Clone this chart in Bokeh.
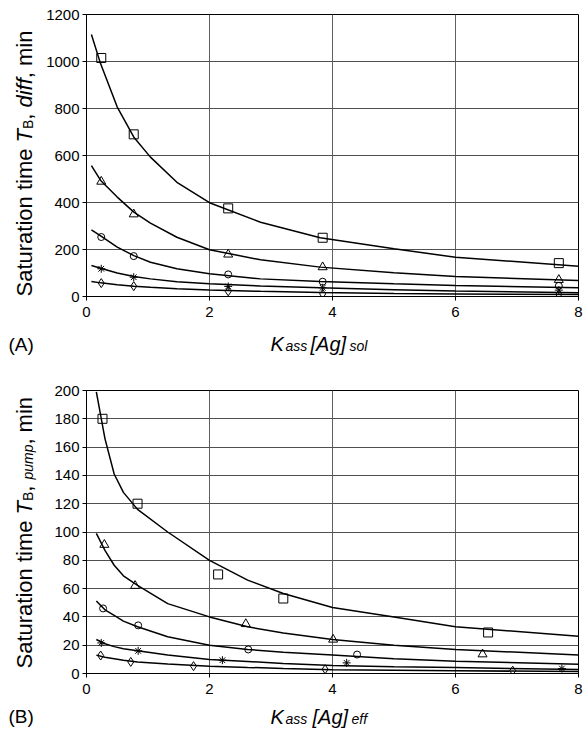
import math
from bokeh.plotting import figure
from bokeh.layouts import column, row
from bokeh.models import Label, FixedTicker, Range1d
from bokeh.embed import file_html
from bokeh.resources import INLINE

FONT = "Liberation Sans"

# ---------------- data: panel A ----------------
xa_fit = [0.08, 0.23, 0.5, 0.77, 1.04, 1.47, 2.0, 2.83, 3.8, 5.0, 6.0, 8.0]
a_fit_square = [1115, 990, 806, 678, 593, 486, 399, 316, 250, 203, 167, 129]
a_fit_triangle = [557, 494, 423, 359, 312, 252, 199, 156, 125, 101, 85, 68]
a_fit_circle = [284, 258, 210, 174, 146, 118, 97, 75, 64, 54, 47, 37]
a_fit_star = [132, 120, 100, 85, 75, 63, 54, 45, 37, 29, 23, 16]
a_fit_diamond = [64, 58, 50, 44, 39, 33, 28, 22, 17, 13, 11, 8]

xa_pts = [0.24, 0.768, 2.304, 3.84, 7.68]
a_square = [1015, 690, 375, 250, 142]
a_triangle = [489, 350, 179, 125, 71]
a_circle = [253, 172, 94, 63, 45]
a_star = [118, 82, 43, 37, 27]
a_diamond = [57, 44, 22, 11, 9]

# ---------------- data: panel B ----------------
xb_fit = [0.16, 0.3, 0.45, 0.6, 0.83, 1.32, 2.0, 2.62, 3.2, 4.0, 5.0, 6.0, 8.0]
b_fit_square = [199, 166, 141, 128, 116, 100, 80, 66, 56.5, 46.6, 40, 33, 26.3]
b_fit_triangle = [99, 87, 76.5, 69, 62.3, 49.4, 40, 33, 28.7, 24, 20, 17, 13]
b_fit_circle = [51.3, 45, 41, 37, 33, 26, 20, 17, 15, 13, 10.5, 8.7, 6.6]
b_fit_star = [24, 21, 19, 17.5, 16, 13, 9.9, 8.5, 7, 5.6, 4.8, 4.2, 2.8]
b_fit_diamond = [13, 11.5, 10.5, 9.3, 8.2, 6.8, 5.2, 4.3, 3.6, 2.7, 2.3, 1.9, 1.4]

xb_square = [0.26, 0.83, 2.14, 3.2, 6.53]
b_square = [180, 120, 70, 53, 29]
xb_triangle = [0.29, 0.79, 2.59, 4.01, 6.44]
b_triangle = [91, 62, 35, 24, 13.6]
xb_circle = [0.27, 0.84, 2.63, 4.4]
b_circle = [46, 34, 17, 13.4]
xb_star = [0.24, 0.84, 2.21, 4.23, 7.73]
b_star = [21.6, 16, 9.4, 7.5, 3.5]
xb_diamond = [0.23, 0.72, 1.74, 3.88, 6.93]
b_diamond = [12.7, 8.2, 5.2, 3.0, 2.0]

x_ticks = [0, 2, 4, 6, 8]
a_y_ticks = [0, 200, 400, 600, 800, 1000, 1200]
b_y_ticks = [0, 20, 40, 60, 80, 100, 120, 140, 160, 180, 200]

STRIP_W = 38          # width of the strip holding the rotated y titles
MAIN_W = 583 - STRIP_W


def make_main(height, top, bottom, ymax, yticks):
    p = figure(width=MAIN_W, height=height, x_range=Range1d(0, 8),
               y_range=Range1d(0, ymax),
               output_backend="svg", toolbar_location=None,
               min_border_left=86 - STRIP_W, min_border_right=5,
               min_border_top=top, min_border_bottom=bottom)
    p.background_fill_color = "white"
    p.border_fill_color = "white"
    p.outline_line_color = "black"
    p.outline_line_width = 1
    for ax in (p.xaxis[0], p.yaxis[0]):
        ax.axis_line_color = "black"
        ax.major_tick_line_color = "black"
        ax.major_tick_out = 4
        ax.major_tick_in = 0
        ax.minor_tick_line_color = None
        ax.major_label_text_font = FONT
        ax.major_label_text_font_size = "15px"
        ax.major_label_text_color = "black"
    p.xaxis[0].ticker = FixedTicker(ticks=x_ticks)
    p.yaxis[0].ticker = FixedTicker(ticks=yticks)
    p.xaxis[0].major_label_standoff = 6
    p.yaxis[0].major_label_standoff = 3
    p.xgrid[0].ticker = FixedTicker(ticks=x_ticks)
    p.ygrid[0].ticker = FixedTicker(ticks=yticks)
    p.xgrid.grid_line_color = "#606060"
    p.ygrid.grid_line_color = "#505050"
    p.xgrid.grid_line_width = 1
    p.ygrid.grid_line_width = 1
    return p


def make_strip(width, height, top=0, bottom=0):
    s = figure(width=width, height=height, x_range=Range1d(0, width),
               y_range=Range1d(0, height - top - bottom),
               output_backend="svg", toolbar_location=None,
               x_axis_location=None, y_axis_location=None,
               min_border_left=0, min_border_right=0,
               min_border_top=top, min_border_bottom=bottom)
    s.outline_line_color = None
    s.grid.visible = False
    s.background_fill_color = "white"
    s.border_fill_color = "white"
    return s


def draw_series(p, xf, yf, xp, yp, marker, size):
    p.line(xf, yf, line_color="black", line_width=1.5)
    p.scatter(xp, yp, marker=marker, size=size, fill_color=None,
              line_color="black", line_width=1)


# ---------- panel A (page y 0..324, titles 324..356) ----------
pa = make_main(324, 14, 28, 1200, a_y_ticks)
draw_series(pa, xa_fit, a_fit_square, xa_pts, a_square, "square", 9)
draw_series(pa, xa_fit, a_fit_triangle, xa_pts, a_triangle, "triangle", 9)
draw_series(pa, xa_fit, a_fit_circle, xa_pts, a_circle, "circle", 7)
draw_series(pa, xa_fit, a_fit_star, xa_pts, a_star, "asterisk", 8)
draw_series(pa, xa_fit, a_fit_diamond, xa_pts, a_diamond, "diamond", 9)
ya_strip = make_strip(STRIP_W, 324, 14, 28)      # frame = page y 14..296
xa_strip = make_strip(583, 32)                    # page y 324..356

# ---------- panel B (page y 356..701, titles 701..730) ----------
pb = make_main(345, 34, 28, 200, b_y_ticks)
draw_series(pb, xb_fit, b_fit_square, xb_square, b_square, "square", 9)
draw_series(pb, xb_fit, b_fit_triangle, xb_triangle, b_triangle, "triangle", 9)
draw_series(pb, xb_fit, b_fit_circle, xb_circle, b_circle, "circle", 7)
draw_series(pb, xb_fit, b_fit_star, xb_star, b_star, "asterisk", 8)
draw_series(pb, xb_fit, b_fit_diamond, xb_diamond, b_diamond, "diamond", 9)
yb_strip = make_strip(STRIP_W, 345, 34, 28)      # frame = page y 390..673
xb_strip = make_strip(583, 29)                    # page y 701..730


def lab(s, frame_bottom, text, px, py, size, italic=False, angle=0.0):
    """place text in a strip figure; py is the page pixel row"""
    s.add_layout(Label(x=px, y=frame_bottom - py, text=text, angle=angle,
                       text_font=FONT, text_font_size=f"{size}px",
                       text_font_style="italic" if italic else "normal",
                       text_color="black", text_align="left",
                       text_baseline="alphabetic"))


# panel tags + x axis titles
lab(xa_strip, 356, "(A)", 8, 344, 19)
lab(xa_strip, 356, "K", 270, 343, 20, True)
lab(xa_strip, 356, "ass", 285, 345, 14, True)
lab(xa_strip, 356, "[Ag]", 310, 343, 20, True)
lab(xa_strip, 356, "sol", 349, 345, 14, True)

lab(xb_strip, 730, "(B)", 8, 716, 19)
lab(xb_strip, 730, "K", 270, 716, 20, True)
lab(xb_strip, 730, "ass", 285, 718, 14, True)
lab(xb_strip, 730, "[Ag]", 312, 716, 20, True)
lab(xb_strip, 730, "eff", 351, 718, 14, True)

# y axis titles (rotated, reading upward)
R = math.pi / 2
BX = 24      # baseline column of the rotated titles
lab(ya_strip, 296, "Saturation time", BX, 296, 22, False, R)
lab(ya_strip, 296, "T", BX, 142, 22, True, R)
lab(ya_strip, 296, "B", BX + 3, 128.6, 14, False, R)
lab(ya_strip, 296, ",", BX, 119.3, 22, False, R)
lab(ya_strip, 296, "diff", BX, 107.1, 22, True, R)
lab(ya_strip, 296, ", min", BX, 77.8, 22, False, R)

lab(yb_strip, 673, "Saturation time", BX, 668, 22, False, R)
lab(yb_strip, 673, "T", BX, 514, 22, True, R)
lab(yb_strip, 673, "B", BX + 3, 500.6, 14, False, R)
lab(yb_strip, 673, ",", BX, 491.3, 22, False, R)
lab(yb_strip, 673, "pump", BX + 3, 479.1, 14, True, R)
lab(yb_strip, 673, ", min", BX, 444.1, 22, False, R)

layout = column(row(ya_strip, pa, spacing=0), xa_strip,
                row(yb_strip, pb, spacing=0), xb_strip, spacing=0)
open("out.html", "w").write(file_html(layout, INLINE))
